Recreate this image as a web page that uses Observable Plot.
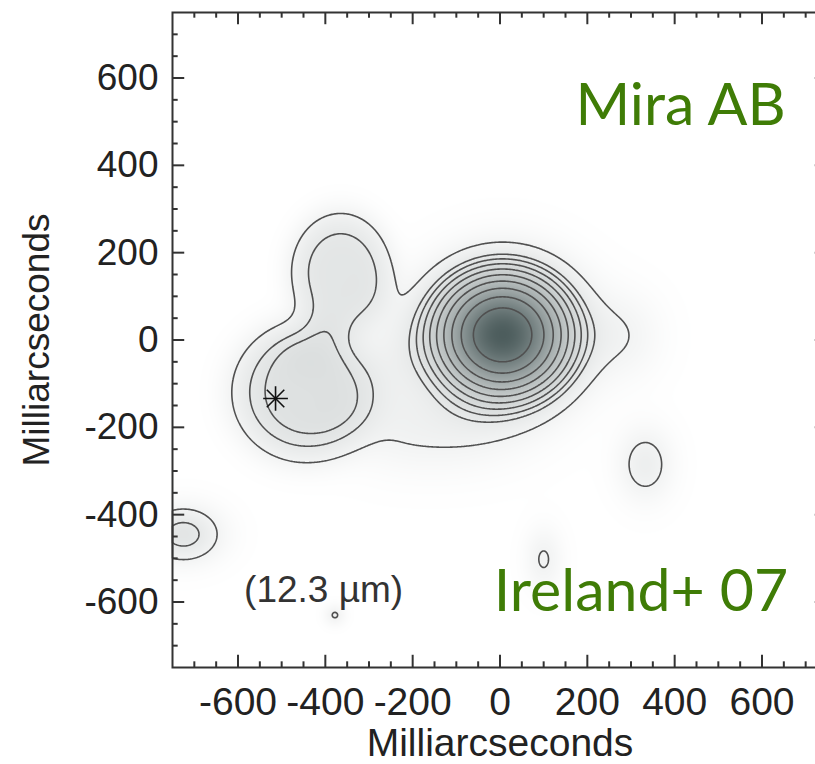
<!DOCTYPE html>
<html>
<head>
<meta charset="utf-8">
<script src="https://cdn.jsdelivr.net/npm/d3@7"></script>
<script src="https://cdn.jsdelivr.net/npm/@observablehq/plot@0.6"></script>
<style>
  html, body { margin: 0; padding: 0; background: #fff; overflow: hidden; }
  #chart { width: 815px; height: 764px; overflow: hidden; }
  #chart svg { max-width: none !important; }
</style>
</head>
<body>
<div id="chart"></div>
<script>
// Emission components of the 12.3 µm map (milliarcseconds), normalised to the Mira A peak
const compName  = ["Mira A", "Mira B", "B north arm", "B cap", "east wing", "gap bridge", "south bridge",
                   "west knot", "SE knot", "spot 1", "spot 2"];
const compX     = [6, -450, -365, -430, 290, -250, -150, -725, 333, 100, -378];
const compY     = [12, -120, 155, -20, 10, -60, -210, -445, -285, -502, -630];
const compSx    = [100, 140, 100, 60, 60, 60, 140, 60, 44, 30, 17];
const compSy    = [92, 135, 120, 50, 70, 100, 70, 45, 59, 51, 17];
const compPeak  = [1, 0.18, 0.155, 0.03, 0.055, 0.05, 0.07, 0.16, 0.1, 0.075, 0.075];
const compShape = [2, 4, 4, 2, 2, 2, 2, 2, 2, 2, 2];

// Contour levels (fraction of peak)
const levels = [0.07, 0.134, 0.168, 0.21, 0.262, 0.328, 0.41, 0.512, 0.64, 0.8];

// Axis ticks (mas)
const majorTicks = [-600, -400, -200, 0, 200, 400, 600];
const minorTicks = [-700, -650, -550, -500, -450, -350, -300, -250, -150, -100, -50,
                    50, 100, 150, 250, 300, 350, 450, 500, 550, 650, 700];

// Position of Mira B
const starX = [-514];
const starY = [-134];

// Annotations
const notes = [
  {text: "Mira AB", x: 654, y: 536, size: 59, color: "#3f7c06", font: "Lato", anchor: "end"},
  {text: "Ireland+ 07", x: 660, y: -577, size: 59, color: "#3f7c06", font: "Lato", anchor: "end"},
  {text: "(12.3 µm)", x: -404, y: -574, size: 37, color: "#333", font: "Liberation Sans", anchor: "middle"}
];

const lim = 750;

function field(x, y) {
  let v = 0;
  for (let i = 0; i < compX.length; i++) {
    const dx = (x - compX[i]) / compSx[i];
    const dy = (y - compY[i]) / compSy[i];
    v += compPeak[i] * Math.exp(-0.5 * Math.pow(dx * dx + dy * dy, compShape[i] / 2));
  }
  return v;
}

const majorLen = 28, minorLen = 13;
const tickStyle = {stroke: "#333", strokeWidth: 2};

function tickRules(vals, len) {
  return [
    Plot.ruleX(vals, {x: d => d, y1: -lim, y2: -lim + len, ...tickStyle}),
    Plot.ruleX(vals, {x: d => d, y1: lim, y2: lim - len, ...tickStyle}),
    Plot.ruleY(vals, {y: d => d, x1: -lim, x2: -lim + len, ...tickStyle}),
    Plot.ruleY(vals, {y: d => d, x1: lim, x2: lim - len, ...tickStyle})
  ];
}

const chart = Plot.plot({
  width: 840,
  height: 764,
  marginLeft: 172,
  marginRight: 13,
  marginTop: 12,
  marginBottom: 97,
  style: {fontFamily: "Liberation Sans, Arial, sans-serif", fontSize: "37px", color: "#222", background: "#fff"},
  x: {domain: [-lim, lim]},
  y: {domain: [-lim, lim]},
  color: {type: "linear", domain: [0, 1], range: ["#ffffff", "#4d5d5d"]},
  marks: [
    Plot.raster({fill: field, x1: -lim, x2: lim, y1: -lim, y2: lim, pixelSize: 1}),
    Plot.contour({value: field, x1: -lim, x2: lim, y1: -lim, y2: lim, pixelSize: 1,
                  thresholds: levels, fill: "none", stroke: "#505050", strokeWidth: 1.6}),
    Plot.dot(starX, {x: d => d, y: (d, i) => starY[i], symbol: "plus", r: 8, stroke: "#111", strokeWidth: 1.6}),
    Plot.dot(starX, {x: d => d, y: (d, i) => starY[i], symbol: "times", r: 8, stroke: "#111", strokeWidth: 1.6}),
    ...tickRules(majorTicks, majorLen),
    ...tickRules(minorTicks, minorLen),
    Plot.frame({stroke: "#333", strokeWidth: 2}),
    Plot.axisX({ticks: majorTicks, tickSize: 0, tickPadding: 20, tickFormat: d => String(d),
                label: "Milliarcseconds", labelAnchor: "center", labelArrow: "none", labelOffset: 88, fontSize: 39}),
    Plot.axisY({ticks: majorTicks, tickSize: 0, tickPadding: 14, tickFormat: d => String(d),
                label: "Milliarcseconds", labelAnchor: "center", labelArrow: "none", labelOffset: 150, fontSize: 37}),
    ...notes.map(n => Plot.text([n], {x: "x", y: "y", text: "text", textAnchor: n.anchor,
                 fontSize: n.size, fontFamily: n.font, fill: n.color}))
  ]
});

document.getElementById("chart").appendChild(chart);
</script>
</body>
</html>
